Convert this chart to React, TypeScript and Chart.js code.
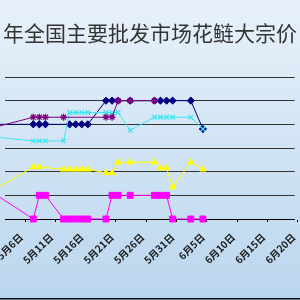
import React, { useEffect, useRef } from "react";
import { Chart, registerables } from "chart.js";

Chart.register(...registerables);

const titleText = "年全国主要批发市场花鲢大宗价";

// day offsets from 5月6日 of each trading day shown
const days = [-6, 0, 1, 2, 5, 6, 7, 8, 9, 12, 13, 14, 16, 20, 21, 22, 23, 26, 28];

const navySeries = [8.0, 8.0, 8.0, 8.0, null, 8.0, 8.0, 8.0, 8.0, 9.0, 9.0, 9.0, 9.0, 9.0, 9.0, 9.0, 9.0, 9.0, 7.8];
const magentaSeries = [5.0, 4.0, 5.0, 5.0, 4.0, 4.0, 4.0, 4.0, 4.0, 4.0, 5.0, 5.0, 5.0, 5.0, 5.0, 5.0, 4.0, 4.0, 4.0];
const yellowSeries = [5.3, 6.2, 6.2, null, 6.1, 6.1, 6.1, 6.1, 6.1, 5.95, 5.95, 6.4, 6.4, 6.4, 6.15, 6.15, 5.35, 6.4, 6.1];
const cyanSeries = [7.45, 7.3, 7.3, 7.3, 7.3, 8.5, 8.5, 8.5, 8.5, 8.5, 8.5, 8.5, 7.75, 8.3, 8.3, 8.3, 8.3, 8.3, 7.8];
const purpleSeries = [7.9, 8.3, 8.3, 8.3, 8.3, null, null, null, null, 8.3, 8.3, 9.0, 9.0, 9.0, null, null, null, null, null];

const tickLabels = ["5月6日", "5月11日", "5月16日", "5月21日", "5月26日", "5月31日", "6月5日", "6月10日", "6月15日", "6月20日"];
const tickDays = [0, 5, 10, 15, 20, 25, 30, 35, 40, 45];
const tickShift = -1.35;

const yTicks = [4, 5, 6, 7, 8, 9, 10];

const FONT = "'Noto Sans CJK SC', 'Noto Sans', sans-serif";

export default function App() {
  const ref = useRef<HTMLCanvasElement>(null);

  useEffect(() => {
    if (!ref.current) return;
    const bgPlugin = {
      id: "bgPlugin",
      beforeDraw(chart: any) {
        const { ctx, width, height } = chart;
        ctx.save();
        const g = ctx.createLinearGradient(0, 0, 0, height);
        g.addColorStop(0, "#e8f1fa");
        g.addColorStop(1, "#bad6ee");
        ctx.fillStyle = g;
        ctx.fillRect(0, 0, width, height);
        ctx.restore();
      },
      afterDraw(chart: any) {
        const { ctx, width, height } = chart;
        ctx.save();
        ctx.fillStyle = "#111";
        ctx.fillRect(0, height - 2, width, 1.5);
        ctx.restore();
      },
    };

    const mk = (label: string, values: (number | null)[], color: string, style: string, radius: number, fill: boolean, order: number) => ({
      label,
      data: days.map((d, i) => ({ x: d, y: values[i] })),
      borderColor: color,
      backgroundColor: color,
      pointBackgroundColor: fill ? color : "transparent",
      pointBorderColor: color,
      borderWidth: 1,
      pointStyle: style,
      pointRadius: radius,
      pointBorderWidth: fill ? 1 : 1.3,
      spanGaps: true,
      tension: 0,
      clip: false,
      order,
    });

    const chart = new Chart(ref.current, {
      type: "line",
      data: {
        datasets: [
          mk("navy", navySeries, "#000080", "rectRot", 3.6, true, 4),
          mk("magenta", magentaSeries, "#ff00ff", "rect", 4.2, true, 3),
          mk("yellow", yellowSeries, "#ffff00", "triangle", 3.6, true, 2),
          mk("cyan", cyanSeries, "#3ee6f2", "crossRot", 3.2, false, 1),
          mk("purple", purpleSeries, "#800080", "star", 3.4, false, 0),
        ] as any,
      },
      options: {
        animation: false,
        responsive: false,
        events: [],
        layout: { padding: 0 },
        plugins: {
          legend: { display: false },
          tooltip: { enabled: false },
          title: {
            display: true,
            text: titleText,
            color: "#333",
            font: { family: FONT, size: 21, weight: "normal", lineHeight: 1.2 },
            padding: { top: 20, bottom: 31.8 },
          },
        },
        scales: {
          x: {
            type: "linear",
            min: -4.62,
            max: 43.15,
            afterBuildTicks: (s: any) => {
              s.ticks = tickDays.map((d) => ({ value: d + tickShift }));
            },
            afterFit: (s: any) => {
              s.paddingLeft = 0;
              s.paddingRight = 0;
              s.height = 81;
            },
            ticks: {
              autoSkip: false,
              maxRotation: 45,
              minRotation: 45,
              padding: 9,
              labelOffset: -4,
              color: "#1a1a1a",
              font: { family: FONT, size: 10, weight: "bold" },
              callback: (_v: any, i: number) => tickLabels[i],
            },
            grid: { drawOnChartArea: false, drawTicks: true, tickLength: 3, color: "#000" },
            border: { display: true, color: "#000", width: 1 },
          },
          y: {
            min: 4,
            max: 10,
            afterBuildTicks: (s: any) => {
              s.ticks = yTicks.map((v) => ({ value: v }));
            },
            afterFit: (s: any) => {
              s.width = 0;
            },
            ticks: { display: false },
            grid: { drawTicks: false, color: "#333" },
            border: { display: false },
          },
        },
      } as any,
      plugins: [bgPlugin],
    });

    return () => chart.destroy();
  }, []);

  return (
    <div style={{ position: "fixed", left: 0, top: 0, width: 300, height: 300, overflow: "hidden" }}>
      <canvas ref={ref} width={300} height={300} style={{ display: "block", width: 300, height: 300 }} />
    </div>
  );
}
